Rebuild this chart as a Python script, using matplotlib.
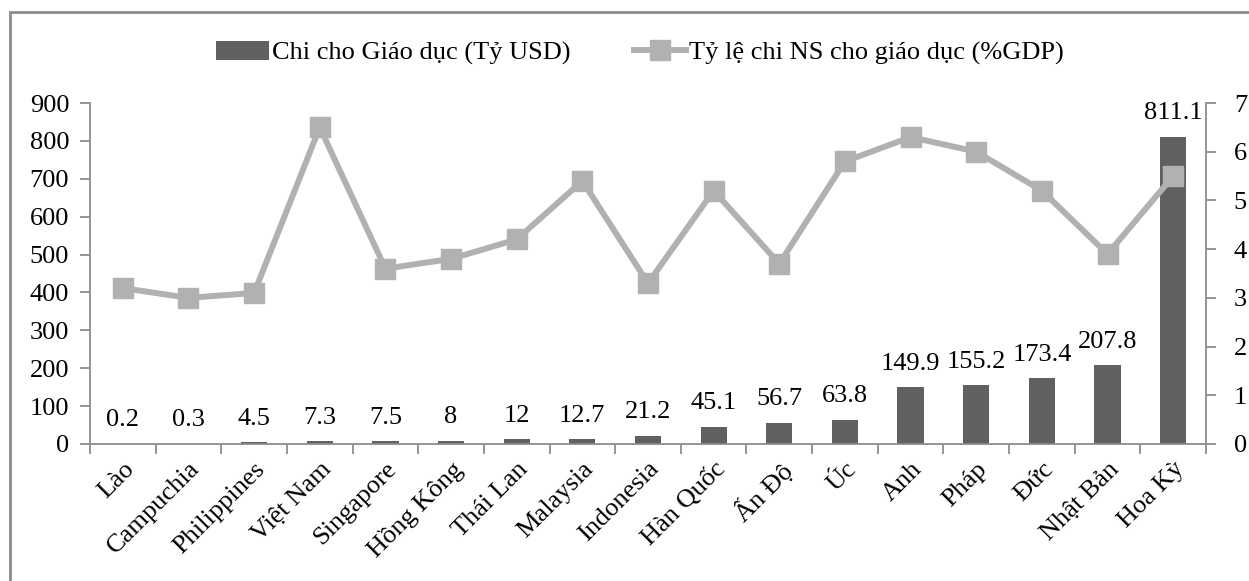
import matplotlib
matplotlib.use("Agg")
import matplotlib.pyplot as plt
from matplotlib.patches import Rectangle
import numpy as np

countries = ["Lào", "Campuchia", "Philippines", "Việt Nam", "Singapore", "Hồng Kông",
             "Thái Lan", "Malaysia", "Indonesia", "Hàn Quốc", "Ấn Độ", "Úc", "Anh",
             "Pháp", "Đức", "Nhật Bản", "Hoa Kỳ"]
spending_busd = [0.2, 0.3, 4.5, 7.3, 7.5, 8, 12, 12.7, 21.2, 45.1, 56.7, 63.8,
                 149.9, 155.2, 173.4, 207.8, 811.1]
share_gdp = [3.2, 3.0, 3.1, 6.5, 3.6, 3.8, 4.2, 5.4, 3.3, 5.2, 3.7, 5.8,
             6.3, 6.0, 5.2, 3.9, 5.5]
bar_labels = ["0.2", "0.3", "4.5", "7.3", "7.5", "8", "12", "12.7", "21.2", "45.1",
              "56.7", "63.8", "149.9", "155.2", "173.4", "207.8", "811.1"]

BAR_COLOR = "#606060"
LINE_COLOR = "#b1b1b1"
AXIS_COLOR = "#8c8c8c"
FS = 19

plt.rcParams["font.family"] = ["Liberation Serif", "DejaVu Serif"]

W, H = 1249, 581
fig = plt.figure(figsize=(W / 100, H / 100), dpi=100)
ax = fig.add_axes([90 / W, 1 - 444 / H, (1206 - 90) / W, (444 - 103) / H])
ax2 = ax.twinx()

x = np.arange(len(countries))
bars = ax.bar(x, spending_busd, width=0.4, color=BAR_COLOR, zorder=2,
              label="Chi cho Giáo dục (Tỷ USD)")
for xi, v, lab in zip(x, spending_busd, bar_labels):
    ax.annotate(lab, (xi, v), xytext=(0, 9), textcoords="offset points",
                ha="center", va="bottom", fontsize=FS, color="black")

line, = ax2.plot(x, share_gdp, color=LINE_COLOR, lw=4.3, marker="s",
                 markersize=14, markerfacecolor=LINE_COLOR,
                 markeredgecolor=LINE_COLOR,
                 label="Tỷ lệ chi NS cho giáo dục (%GDP)")

ax.set_xlim(-0.5, len(countries) - 0.5)
ax.set_ylim(0, 900)
ax.set_yticks(np.arange(0, 901, 100))
ax2.set_ylim(0, 7)
ax2.set_yticks(np.arange(0, 8, 1))

# category boundaries carry the tick marks, centers carry the labels
ax.set_xticks(np.arange(-0.5, len(countries), 1.0))
ax.set_xticklabels([])
ax.set_xticks(x, minor=True)
ax.set_xticklabels(countries, minor=True, rotation=45, ha="right",
                   rotation_mode="anchor", fontsize=FS)
ax.tick_params(axis="x", which="minor", length=0, pad=10)
ax.tick_params(axis="x", which="major", length=7, width=1.3, color=AXIS_COLOR)
ax.tick_params(axis="y", length=7, width=1.3, color=AXIS_COLOR, labelsize=FS, pad=8)
ax2.tick_params(axis="y", length=7, width=1.3, color=AXIS_COLOR, labelsize=FS, pad=13)

for a in (ax, ax2):
    a.spines["top"].set_visible(False)
    for s in ("left", "right", "bottom"):
        a.spines[s].set_color(AXIS_COLOR)
        a.spines[s].set_linewidth(1.3)
ax.spines["right"].set_visible(False)
ax2.spines["left"].set_visible(False)
ax2.spines["bottom"].set_visible(False)

fig.legend(handles=[bars, line], loc="center", bbox_to_anchor=(640 / W, 1 - 53 / H),
           ncol=2, frameon=False, fontsize=FS, handlelength=2.0,
           handletextpad=0.1, columnspacing=2.4)

# outer frame
fig.patches.append(Rectangle((10 / W, -0.05), 1.2, 1 - 12 / H + 0.05,
                             transform=fig.transFigure, fill=False,
                             edgecolor=AXIS_COLOR, lw=2, zorder=0))

fig.savefig("out.png", dpi=100)
